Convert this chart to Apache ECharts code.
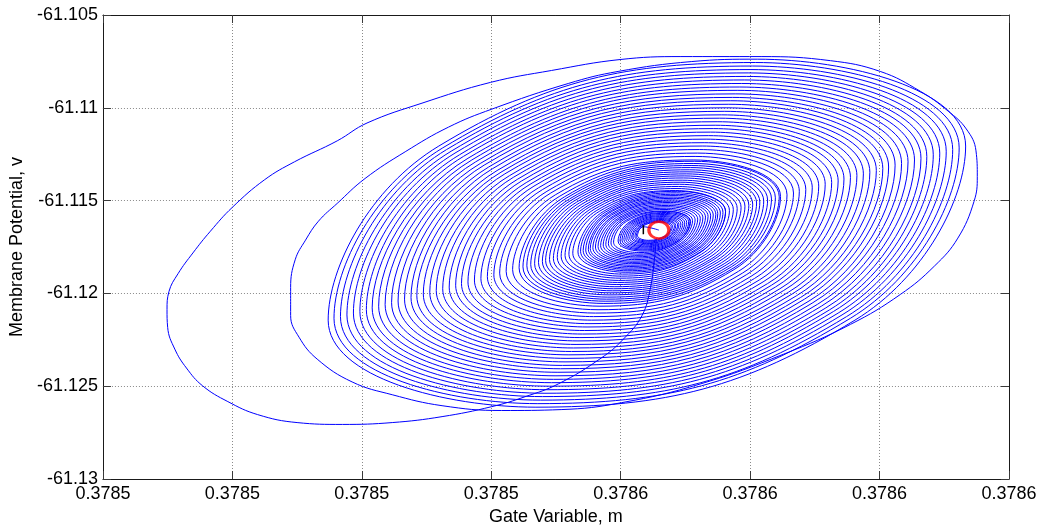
<!DOCTYPE html>
<html>
<head>
<meta charset="utf-8">
<title>Phase plane: gate variable vs membrane potential</title>
<script src="https://cdn.jsdelivr.net/npm/echarts@6/dist/echarts.min.js"></script>
<style>
  html, body { margin: 0; padding: 0; background: #fff; overflow: hidden; }
  #chart { width: 1047px; height: 531px; }
</style>
</head>
<body>
<div id="chart"></div>
<script>
// Axis ranges and tick spacing
const xRange = [0.37848, 0.37862];
const xStep = 0.00002;
const yRange = [-61.13, -61.105];
const yStep = 0.005;

// Initial excursion: leaves the rest point, sweeps the wide first turn
// and the second (still lopsided) turn, points as [m, v]
const excursionPts = [
  [0.3785655,-61.11702],[0.3785652,-61.11819],[0.3785646,-61.11969],[0.3785633,-61.12119],
  [0.3785604,-61.12247],[0.3785570,-61.12348],[0.3785504,-61.12487],[0.3785452,-61.12557],
  [0.3785401,-61.12610],[0.3785324,-61.12664],[0.3785247,-61.12696],[0.3785170,-61.12706],
  [0.3785100,-61.12696],[0.3785039,-61.12653],[0.3784993,-61.12583],[0.3784954,-61.12498],
  [0.3784929,-61.12402],[0.3784911,-61.12300],[0.3784900,-61.12183],[0.3784899,-61.12087],
  [0.3784902,-61.11990],[0.3784916,-61.11894],[0.3784939,-61.11782],[0.3784966,-61.11665],
  [0.3785000,-61.11536],[0.3785050,-61.11387],[0.3785096,-61.11291],[0.3785162,-61.11178],
  [0.3785208,-61.11082],[0.3785293,-61.10975],[0.3785399,-61.10863],[0.3785493,-61.10799],
  [0.3785599,-61.10740],[0.3785693,-61.10724],[0.3785817,-61.10724],[0.3785924,-61.10746],
  [0.3786001,-61.10804],[0.3786063,-61.10911],[0.3786106,-61.11018],[0.3786134,-61.11114],
  [0.3786149,-61.11232],[0.3786151,-61.11371],[0.3786146,-61.11504],[0.3786121,-61.11702],
  [0.3786085,-61.11852],[0.3786032,-61.12006],[0.3785955,-61.12167],[0.3785852,-61.12327],
  [0.3785724,-61.12487],[0.3785601,-61.12589],[0.3785508,-61.12626],[0.3785416,-61.12631],
  [0.3785324,-61.12605],[0.3785247,-61.12546],[0.3785185,-61.12477],[0.3785131,-61.12354],
  [0.3785103,-61.12236],[0.3785090,-61.12119],[0.3785090,-61.11969],[0.3785097,-61.11819],
  [0.3785113,-61.11713],[0.3785133,-61.11611],[0.3785162,-61.11515],[0.3785205,-61.11381],
  [0.3785267,-61.11237],[0.3785334,-61.11104],[0.3785401,-61.11007],[0.3785519,-61.10869],
  [0.3785596,-61.10804],[0.3785709,-61.10751]
];

// Decaying oscillation: six samples per turn (top, right, lower right,
// bottom, left, upper left), turns listed from outside in
const spiralPts = [
  [0.3785811,-61.10738],[0.3786133,-61.11206],[0.3785962,-61.12144],[0.3785469,-61.12613],[0.3785148,-61.12144],[0.3785319,-61.11206],
  [0.3785808,-61.10756],[0.3786123,-61.11216],[0.3785955,-61.12134],[0.3785472,-61.12594],[0.3785157,-61.12134],[0.3785325,-61.11216],
  [0.3785804,-61.10775],[0.3786113,-61.11225],[0.3785949,-61.12125],[0.3785476,-61.12575],[0.3785167,-61.12125],[0.3785331,-61.11225],
  [0.3785801,-61.10794],[0.3786103,-61.11234],[0.3785942,-61.12116],[0.3785479,-61.12556],[0.3785177,-61.12116],[0.3785338,-61.11234],
  [0.3785797,-61.10812],[0.3786093,-61.11244],[0.3785936,-61.12106],[0.3785483,-61.12538],[0.3785187,-61.12106],[0.3785344,-61.11244],
  [0.3785794,-61.10831],[0.3786083,-61.11253],[0.3785929,-61.12097],[0.3785486,-61.12519],[0.3785197,-61.12097],[0.3785351,-61.11253],
  [0.3785791,-61.10850],[0.3786073,-61.11262],[0.3785923,-61.12088],[0.3785490,-61.12500],[0.3785207,-61.12088],[0.3785357,-61.11262],
  [0.3785787,-61.10869],[0.3786064,-61.11272],[0.3785917,-61.12078],[0.3785493,-61.12481],[0.3785216,-61.12078],[0.3785364,-61.11272],
  [0.3785784,-61.10888],[0.3786054,-61.11281],[0.3785910,-61.12069],[0.3785496,-61.12463],[0.3785226,-61.12069],[0.3785370,-61.11281],
  [0.3785780,-61.10906],[0.3786044,-61.11291],[0.3785904,-61.12059],[0.3785500,-61.12444],[0.3785236,-61.12059],[0.3785376,-61.11291],
  [0.3785777,-61.10925],[0.3786034,-61.11300],[0.3785897,-61.12050],[0.3785503,-61.12425],[0.3785246,-61.12050],[0.3785383,-61.11300],
  [0.3785773,-61.10944],[0.3786024,-61.11309],[0.3785891,-61.12041],[0.3785507,-61.12406],[0.3785256,-61.12041],[0.3785389,-61.11309],
  [0.3785770,-61.10962],[0.3786014,-61.11319],[0.3785884,-61.12031],[0.3785510,-61.12388],[0.3785266,-61.12031],[0.3785396,-61.11319],
  [0.3785767,-61.10981],[0.3786005,-61.11328],[0.3785878,-61.12022],[0.3785514,-61.12369],[0.3785276,-61.12022],[0.3785402,-61.11328],
  [0.3785763,-61.11000],[0.3785995,-61.11338],[0.3785872,-61.12012],[0.3785517,-61.12350],[0.3785285,-61.12012],[0.3785409,-61.11338],
  [0.3785760,-61.11019],[0.3785985,-61.11347],[0.3785865,-61.12003],[0.3785520,-61.12331],[0.3785295,-61.12003],[0.3785415,-61.11347],
  [0.3785756,-61.11038],[0.3785975,-61.11356],[0.3785859,-61.11994],[0.3785524,-61.12313],[0.3785305,-61.11994],[0.3785421,-61.11356],
  [0.3785753,-61.11056],[0.3785965,-61.11366],[0.3785852,-61.11984],[0.3785527,-61.12294],[0.3785315,-61.11984],[0.3785428,-61.11366],
  [0.3785749,-61.11075],[0.3785955,-61.11375],[0.3785846,-61.11975],[0.3785531,-61.12275],[0.3785325,-61.11975],[0.3785434,-61.11375],
  [0.3785746,-61.11094],[0.3785945,-61.11384],[0.3785839,-61.11966],[0.3785534,-61.12256],[0.3785335,-61.11966],[0.3785441,-61.11384],
  [0.3785743,-61.11112],[0.3785936,-61.11394],[0.3785833,-61.11956],[0.3785537,-61.12238],[0.3785345,-61.11956],[0.3785447,-61.11394],
  [0.3785739,-61.11131],[0.3785926,-61.11403],[0.3785827,-61.11947],[0.3785541,-61.12219],[0.3785354,-61.11947],[0.3785454,-61.11403],
  [0.3785736,-61.11150],[0.3785916,-61.11412],[0.3785820,-61.11938],[0.3785544,-61.12200],[0.3785364,-61.11938],[0.3785460,-61.11412],
  [0.3785732,-61.11169],[0.3785906,-61.11422],[0.3785814,-61.11928],[0.3785548,-61.12181],[0.3785374,-61.11928],[0.3785466,-61.11422],
  [0.3785729,-61.11188],[0.3785896,-61.11431],[0.3785807,-61.11919],[0.3785551,-61.12163],[0.3785384,-61.11919],[0.3785473,-61.11431],
  [0.3785726,-61.11206],[0.3785886,-61.11441],[0.3785801,-61.11909],[0.3785555,-61.12144],[0.3785394,-61.11909],[0.3785479,-61.11441],
  [0.3785722,-61.11225],[0.3785876,-61.11450],[0.3785794,-61.11900],[0.3785558,-61.12125],[0.3785404,-61.11900],[0.3785486,-61.11450],
  [0.3785719,-61.11244],[0.3785867,-61.11459],[0.3785788,-61.11891],[0.3785561,-61.12106],[0.3785413,-61.11891],[0.3785492,-61.11459],
  [0.3785715,-61.11262],[0.3785857,-61.11469],[0.3785782,-61.11881],[0.3785565,-61.12088],[0.3785423,-61.11881],[0.3785499,-61.11469],
  [0.3785712,-61.11281],[0.3785847,-61.11478],[0.3785775,-61.11872],[0.3785568,-61.12069],[0.3785433,-61.11872],[0.3785505,-61.11478],
  [0.3785714,-61.11288],[0.3785845,-61.11480],[0.3785775,-61.11862],[0.3785574,-61.12054],[0.3785443,-61.11862],[0.3785513,-61.11480],
  [0.3785712,-61.11300],[0.3785839,-61.11485],[0.3785771,-61.11857],[0.3785576,-61.12042],[0.3785449,-61.11857],[0.3785517,-61.11485],
  [0.3785710,-61.11311],[0.3785833,-61.11491],[0.3785768,-61.11851],[0.3785578,-61.12031],[0.3785455,-61.11851],[0.3785521,-61.11491],
  [0.3785708,-61.11322],[0.3785827,-61.11497],[0.3785764,-61.11845],[0.3785580,-61.12020],[0.3785461,-61.11845],[0.3785524,-61.11497],
  [0.3785706,-61.11334],[0.3785821,-61.11502],[0.3785760,-61.11840],[0.3785582,-61.12008],[0.3785467,-61.11840],[0.3785528,-61.11502],
  [0.3785704,-61.11345],[0.3785815,-61.11508],[0.3785756,-61.11834],[0.3785585,-61.11997],[0.3785473,-61.11834],[0.3785532,-61.11508],
  [0.3785702,-61.11356],[0.3785810,-61.11513],[0.3785752,-61.11828],[0.3785587,-61.11986],[0.3785479,-61.11828],[0.3785536,-61.11513],
  [0.3785699,-61.11367],[0.3785804,-61.11519],[0.3785748,-61.11823],[0.3785589,-61.11975],[0.3785484,-61.11823],[0.3785540,-61.11519],
  [0.3785697,-61.11378],[0.3785798,-61.11525],[0.3785744,-61.11817],[0.3785591,-61.11964],[0.3785490,-61.11817],[0.3785544,-61.11525],
  [0.3785695,-61.11390],[0.3785792,-61.11530],[0.3785741,-61.11812],[0.3785593,-61.11952],[0.3785496,-61.11812],[0.3785548,-61.11530],
  [0.3785693,-61.11401],[0.3785786,-61.11536],[0.3785737,-61.11806],[0.3785595,-61.11941],[0.3785502,-61.11806],[0.3785551,-61.11536],
  [0.3785691,-61.11412],[0.3785780,-61.11542],[0.3785733,-61.11800],[0.3785597,-61.11930],[0.3785508,-61.11800],[0.3785555,-61.11542],
  [0.3785689,-61.11424],[0.3785774,-61.11547],[0.3785729,-61.11795],[0.3785599,-61.11918],[0.3785514,-61.11795],[0.3785559,-61.11547],
  [0.3785687,-61.11435],[0.3785768,-61.11553],[0.3785725,-61.11789],[0.3785601,-61.11907],[0.3785520,-61.11789],[0.3785563,-61.11553],
  [0.3785685,-61.11446],[0.3785762,-61.11558],[0.3785721,-61.11784],[0.3785603,-61.11896],[0.3785526,-61.11784],[0.3785567,-61.11558],
  [0.3785688,-61.11450],[0.3785762,-61.11559],[0.3785723,-61.11777],[0.3785608,-61.11886],[0.3785534,-61.11777],[0.3785573,-61.11559],
  [0.3785686,-61.11458],[0.3785758,-61.11563],[0.3785720,-61.11773],[0.3785610,-61.11878],[0.3785538,-61.11773],[0.3785576,-61.11563],
  [0.3785685,-61.11466],[0.3785754,-61.11567],[0.3785717,-61.11769],[0.3785611,-61.11870],[0.3785542,-61.11769],[0.3785579,-61.11567],
  [0.3785684,-61.11473],[0.3785750,-61.11570],[0.3785715,-61.11766],[0.3785612,-61.11863],[0.3785546,-61.11766],[0.3785581,-61.11570],
  [0.3785682,-61.11481],[0.3785747,-61.11574],[0.3785712,-61.11762],[0.3785614,-61.11855],[0.3785550,-61.11762],[0.3785584,-61.11574],
  [0.3785681,-61.11488],[0.3785743,-61.11578],[0.3785710,-61.11758],[0.3785615,-61.11848],[0.3785553,-61.11758],[0.3785586,-61.11578],
  [0.3785680,-61.11496],[0.3785739,-61.11582],[0.3785707,-61.11754],[0.3785617,-61.11840],[0.3785557,-61.11754],[0.3785589,-61.11582],
  [0.3785678,-61.11503],[0.3785735,-61.11585],[0.3785705,-61.11750],[0.3785618,-61.11833],[0.3785561,-61.11750],[0.3785591,-61.11585],
  [0.3785677,-61.11510],[0.3785731,-61.11589],[0.3785702,-61.11747],[0.3785619,-61.11826],[0.3785565,-61.11747],[0.3785594,-61.11589],
  [0.3785675,-61.11518],[0.3785727,-61.11593],[0.3785699,-61.11743],[0.3785621,-61.11818],[0.3785569,-61.11743],[0.3785597,-61.11593],
  [0.3785674,-61.11526],[0.3785723,-61.11597],[0.3785697,-61.11739],[0.3785622,-61.11810],[0.3785573,-61.11739],[0.3785599,-61.11597],
  [0.3785673,-61.11533],[0.3785719,-61.11600],[0.3785694,-61.11736],[0.3785623,-61.11803],[0.3785577,-61.11736],[0.3785602,-61.11600],
  [0.3785671,-61.11541],[0.3785715,-61.11604],[0.3785692,-61.11732],[0.3785625,-61.11795],[0.3785581,-61.11732],[0.3785604,-61.11604],
  [0.3785670,-61.11548],[0.3785711,-61.11608],[0.3785689,-61.11728],[0.3785626,-61.11788],[0.3785585,-61.11728],[0.3785607,-61.11608],
  [0.3785669,-61.11556],[0.3785707,-61.11612],[0.3785687,-61.11724],[0.3785628,-61.11780],[0.3785589,-61.11724],[0.3785609,-61.11612],
  [0.3785672,-61.11558],[0.3785708,-61.11612],[0.3785689,-61.11718],[0.3785633,-61.11772],[0.3785596,-61.11718],[0.3785615,-61.11612],
  [0.3785671,-61.11564],[0.3785705,-61.11614],[0.3785687,-61.11716],[0.3785634,-61.11766],[0.3785599,-61.11716],[0.3785617,-61.11614],
  [0.3785669,-61.11569],[0.3785702,-61.11617],[0.3785685,-61.11713],[0.3785635,-61.11761],[0.3785602,-61.11713],[0.3785619,-61.11617],
  [0.3785668,-61.11575],[0.3785699,-61.11620],[0.3785683,-61.11710],[0.3785636,-61.11755],[0.3785605,-61.11710],[0.3785621,-61.11620],
  [0.3785667,-61.11581],[0.3785696,-61.11623],[0.3785681,-61.11707],[0.3785637,-61.11749],[0.3785608,-61.11707],[0.3785623,-61.11623],
  [0.3785666,-61.11586],[0.3785693,-61.11626],[0.3785679,-61.11704],[0.3785638,-61.11744],[0.3785611,-61.11704],[0.3785625,-61.11626],
  [0.3785665,-61.11592],[0.3785690,-61.11628],[0.3785677,-61.11702],[0.3785639,-61.11738],[0.3785614,-61.11702],[0.3785627,-61.11628],
  [0.3785664,-61.11597],[0.3785688,-61.11631],[0.3785675,-61.11699],[0.3785640,-61.11732],[0.3785617,-61.11699],[0.3785629,-61.11631],
  [0.3785664,-61.11602],[0.3785685,-61.11634],[0.3785674,-61.11696],[0.3785641,-61.11728],[0.3785619,-61.11696],[0.3785631,-61.11634],
  [0.3785663,-61.11607],[0.3785683,-61.11636],[0.3785672,-61.11694],[0.3785641,-61.11723],[0.3785622,-61.11694],[0.3785632,-61.11636],
  [0.3785662,-61.11612],[0.3785680,-61.11638],[0.3785670,-61.11692],[0.3785642,-61.11718],[0.3785624,-61.11692],[0.3785634,-61.11638],
  [0.3785661,-61.11616],[0.3785678,-61.11641],[0.3785669,-61.11689],[0.3785643,-61.11714],[0.3785626,-61.11689],[0.3785635,-61.11641]
];

// Final state, marked with the red ring
const finalPoint = [0.3785659, -61.11659];

// Short black segment drawn next to the final state
const markerSegment = [[0.3785635, -61.11633], [0.3785635, -61.11681]];

const trajectory = excursionPts.concat(spiralPts, [finalPoint]);

const FONT = "'Liberation Sans', Arial, Helvetica, sans-serif";

function xLabel(v) { return v.toFixed(4); }
function yLabel(v) { return String(parseFloat(v.toFixed(3))); }

const gridLine = { show: true, lineStyle: { color: '#8a8a8a', width: 1, type: [1, 2] } };
const boxLine = { show: true, onZero: false, lineStyle: { color: '#1a1a1a', width: 1 } };
const innerTick = { show: true, inside: true, length: 8, lineStyle: { color: '#3a3a3a', width: 1 } };

const chart = echarts.init(document.getElementById('chart'), null, { renderer: 'canvas' });
chart.setOption({
  animation: false,
  backgroundColor: '#ffffff',
  grid: { left: 100, right: 38, top: 15, bottom: 48, containLabel: false },
  xAxis: [
    {
      type: 'value', position: 'bottom',
      min: xRange[0], max: xRange[1], interval: xStep,
      name: 'Gate Variable, m', nameLocation: 'middle', nameGap: 29,
      nameTextStyle: { fontFamily: FONT, fontSize: 18, color: '#000' },
      axisLine: boxLine, axisTick: innerTick,
      axisLabel: { margin: 6, fontFamily: FONT, fontSize: 18, color: '#000', formatter: xLabel },
      splitLine: gridLine
    },
    {
      type: 'value', position: 'top',
      min: xRange[0], max: xRange[1], interval: xStep,
      axisLine: boxLine, axisTick: innerTick,
      axisLabel: { show: false }, splitLine: { show: false }
    }
  ],
  yAxis: [
    {
      type: 'value', position: 'left',
      min: yRange[0], max: yRange[1], interval: yStep,
      name: 'Membrane Potential, v', nameLocation: 'middle', nameGap: 69,
      nameTextStyle: { fontFamily: FONT, fontSize: 18, color: '#000' },
      axisLine: boxLine, axisTick: innerTick,
      axisLabel: { margin: 5, fontFamily: FONT, fontSize: 18, color: '#000', formatter: yLabel },
      splitLine: gridLine
    },
    {
      type: 'value', position: 'right',
      min: yRange[0], max: yRange[1], interval: yStep,
      axisLine: boxLine, axisTick: innerTick,
      axisLabel: { show: false }, splitLine: { show: false }
    }
  ],
  series: [
    {
      name: 'trajectory', type: 'line', xAxisIndex: 0, yAxisIndex: 0,
      data: trajectory, symbol: 'none', showSymbol: false, smooth: 0.42,
      lineStyle: { color: '#0000ff', width: 1 }, silent: true, z: 2
    },
    {
      name: 'segment', type: 'line', xAxisIndex: 0, yAxisIndex: 0,
      data: markerSegment, symbol: 'none', showSymbol: false,
      lineStyle: { color: '#000000', width: 1.5 }, silent: true, z: 3
    },
    {
      name: 'final', type: 'scatter', xAxisIndex: 0, yAxisIndex: 0,
      data: [finalPoint], symbol: 'circle', symbolSize: [20, 17],
      itemStyle: { color: 'rgba(255,255,255,0)', borderColor: '#ff0000', borderWidth: 3 },
      silent: true, z: 4
    }
  ]
});
</script>
</body>
</html>
